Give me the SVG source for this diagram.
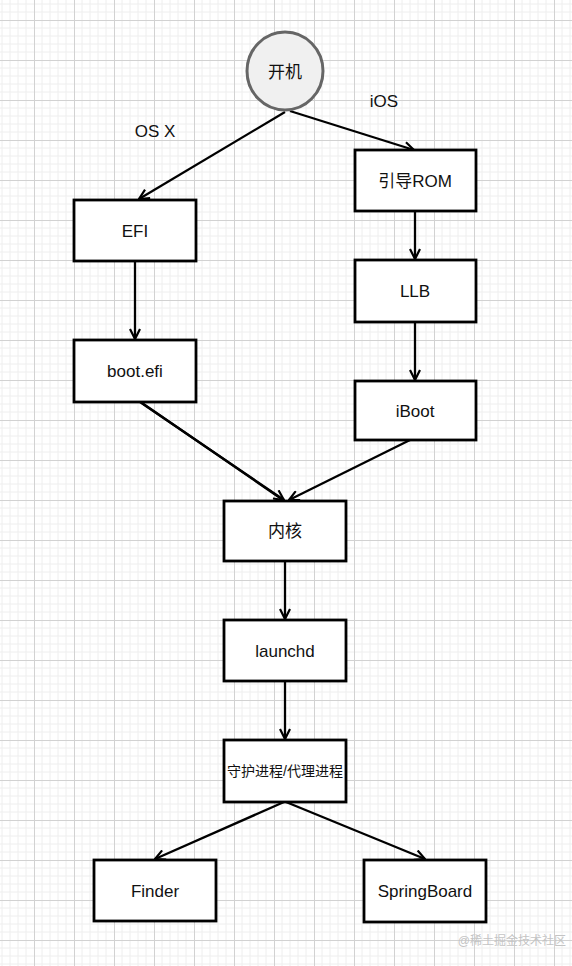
<svg xmlns="http://www.w3.org/2000/svg" width="572" height="966" viewBox="0 0 572 966">
<defs>
<pattern id="grid" x="34" y="20" width="40" height="40" patternUnits="userSpaceOnUse">
<path d="M8 0V40M16 0V40M24 0V40M32 0V40M0 8H40M0 16H40M0 24H40M0 32H40" stroke="#eeeeee" stroke-width="1" fill="none"/>
<path d="M0.5 0V40M0 0.5H40" stroke="#d2d2d2" stroke-width="1" fill="none"/>
</pattern>
<marker id="arr" viewBox="0 0 12 12" refX="11" refY="6" markerWidth="12" markerHeight="12" markerUnits="userSpaceOnUse" orient="auto">
<path d="M1 1L11 6L1 11" fill="none" stroke="#000" stroke-width="2.2" stroke-linejoin="miter"/>
</marker>
</defs>
<style>
.box{fill:#fff;stroke:#000;stroke-width:2.8}
.t{font-family:"Liberation Sans","Noto Sans CJK SC",sans-serif;font-size:17px;fill:#111;text-anchor:middle;dominant-baseline:central}
.c{fill:none;stroke:#000;stroke-width:2.3;marker-end:url(#arr)}
</style>
<rect width="572" height="966" fill="#fff"/>
<rect width="572" height="966" fill="url(#grid)"/>
<g id="connectors">
<path class="c" d="M285 112L139 199"/>
<path class="c" d="M290 111L414 150"/>
<path class="c" d="M135 261L135 339"/>
<path class="c" d="M415 211L415 259"/>
<path class="c" d="M415 322L415 380"/>
<path class="c" d="M140 402L284 500"/>
<path class="c" d="M142 403L283 500" style="marker-end:none"/>
<path class="c" d="M410 440L289 500"/>
<path class="c" d="M285 561L285 619"/>
<path class="c" d="M285 681L285 739"/>
<path class="c" d="M284 802L155 859"/>
<path class="c" d="M286 802L425 859"/>
</g>
<g id="start">
<ellipse cx="285" cy="71" rx="38" ry="39" fill="#f0f0f0" stroke="#666" stroke-width="3"/>
<text class="t" x="285" y="72">开机</text>
</g>
<g id="label-osx"><text class="t" x="155" y="131">OS X</text></g>
<g id="label-ios"><text class="t" x="384" y="101">iOS</text></g>
<g id="efi"><rect class="box" x="74" y="200" width="122" height="61"/><text class="t" x="135" y="231">EFI</text></g>
<g id="bootefi"><rect class="box" x="74" y="340" width="122" height="62"/><text class="t" x="135" y="371">boot.efi</text></g>
<g id="rom"><rect class="box" x="355" y="150" width="121" height="61"/><text class="t" x="415" y="181">引导ROM</text></g>
<g id="llb"><rect class="box" x="355" y="260" width="121" height="62"/><text class="t" x="415" y="291">LLB</text></g>
<g id="iboot"><rect class="box" x="355" y="381" width="121" height="59"/><text class="t" x="415" y="411">iBoot</text></g>
<g id="kernel"><rect class="box" x="224" y="501" width="122" height="60"/><text class="t" x="285" y="531">内核</text></g>
<g id="launchd"><rect class="box" x="224" y="620" width="122" height="61"/><text class="t" x="285" y="651">launchd</text></g>
<g id="daemon"><rect class="box" x="224" y="740" width="122" height="62"/><text class="t" x="285" y="771" style="font-size:14px">守护进程/代理进程</text></g>
<g id="finder"><rect class="box" x="94" y="860" width="122" height="61"/><text class="t" x="155" y="891">Finder</text></g>
<g id="springboard"><rect class="box" x="364" y="860" width="122" height="62"/><text class="t" x="425" y="891">SpringBoard</text></g>
<text x="566" y="941" style="font-family:'Liberation Sans','Noto Sans CJK SC',sans-serif;font-size:12px;fill:#c4c4c4;text-anchor:end;dominant-baseline:central">@稀土掘金技术社区</text>
</svg>
